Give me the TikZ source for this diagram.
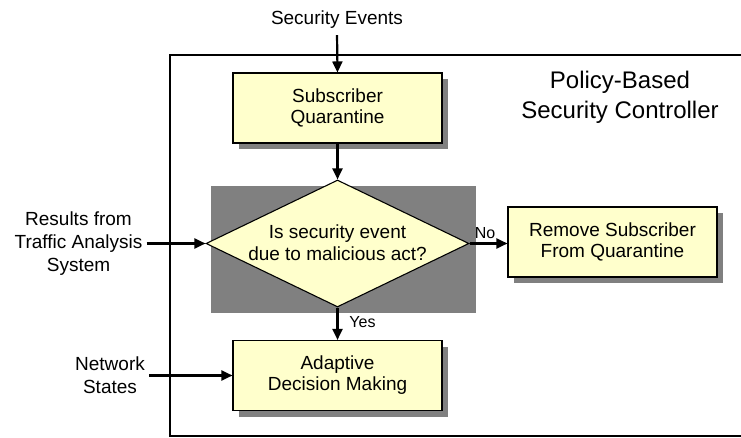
\documentclass[tikz,border=0pt]{standalone}
\usepackage{fontspec}
\setmainfont{Liberation Sans}
\usetikzlibrary{shapes.geometric,shadows,arrows.meta}

\definecolor{boxfill}{HTML}{FFFFCC}
\definecolor{shadowgray}{HTML}{808080}
\newcommand\fsz[2]{\fontsize{#1}{#2}\selectfont}

\tikzset{
  procbox/.style={draw=black, line width=1.1pt, fill=boxfill,
    minimum width=209pt, minimum height=70pt, inner sep=0pt,
    align=center, font=\fsz{19}{21},
    drop shadow={shadow xshift=6pt, shadow yshift=-6pt, fill=shadowgray, opacity=1}},
  decision/.style={diamond, draw=black, line width=1.1pt, fill=boxfill,
    minimum width=263pt, minimum height=127pt, inner sep=0pt},
  lbl/.style={align=center, font=\fsz{19}{23}, inner sep=4pt},
  small/.style={font=\fsz{16}{18}, inner sep=0pt},
  flow/.style={line width=2.2pt, -{Triangle[length=11pt,width=10pt]}},
  frame/.style={line width=1.4pt}
}

\begin{document}
\begin{tikzpicture}[x=1pt, y=-1pt]
  \useasboundingbox (0,0) rectangle (741,438);

  % controller boundary (open on the right)
  \draw[frame] (741,55) -- (170,55) -- (170,436) -- (741,436);

  % controller title
  \node[align=center, font=\fsz{24}{30}] (title) at (620,97)
    {Policy-Based\\Security Controller};

  % grey backdrop behind the decision
  \fill[shadowgray] (211,186) rectangle (476,313);

  % flow elements
  \node[procbox] (sub) at (337.5,108) {Subscriber\\Quarantine};
  \node[decision] (q) at (337.5,243.5) {};
  \node[align=center, font=\fsz{19}{22}, inner sep=0pt] (qtext) at (337.5,242.5)
    {Is security event\\due to malicious act?};
  \node[procbox] (rem) at (612.5,242) {Remove Subscriber\\From Quarantine};
  \node[procbox] (adapt) at (337.5,375.5) {Adaptive\\Decision Making};

  % external inputs
  \node[lbl] (sec) at (337,20) {Security Events};
  \node[lbl] (res) at (78.5,243.5) {Results from\\Traffic Analysis\\System};
  \node[lbl] (net) at (110,375.5) {Network\\States};

  % connectors
  \draw[flow, shorten <=2pt] (sec.south) -- (sub.north);
  \draw[flow] (sub.south) -- (q.north);
  \draw[flow] (res.east) -- (q.west);
  \draw[flow] (q.east) -- (rem.west |- q.east);
  \draw[flow] (q.south) -- (adapt.north);
  \draw[flow] (net.east) -- (adapt.west);

  % branch labels
  \node[small] (no) at (485,233) {No};
  \node[small] (yes) at (362.5,322) {Yes};
\end{tikzpicture}
\end{document}
